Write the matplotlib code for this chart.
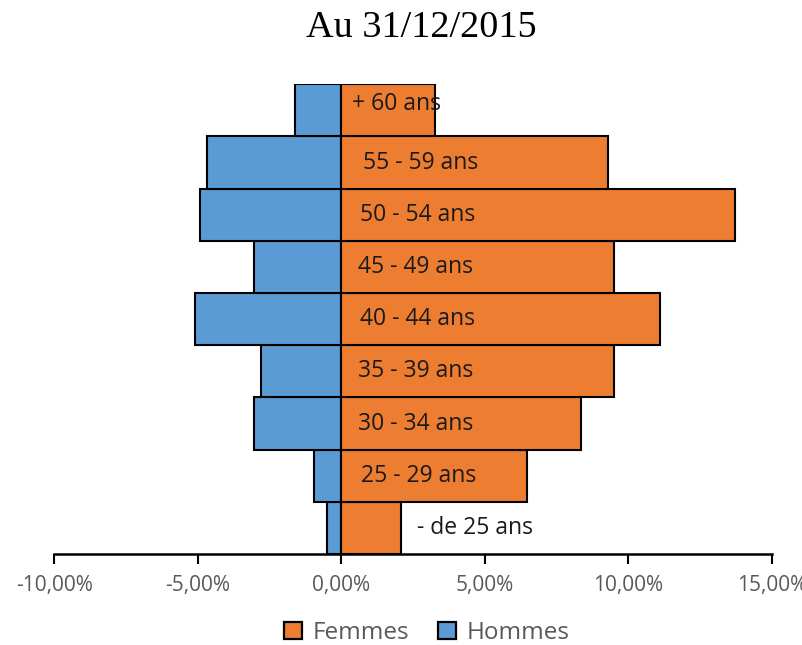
import matplotlib
matplotlib.use("Agg")
import matplotlib.pyplot as plt
from matplotlib.patches import Patch

# age groups, bottom to top
ages = ["- de 25 ans", "25 - 29 ans", "30 - 34 ans", "35 - 39 ans", "40 - 44 ans",
        "45 - 49 ans", "50 - 54 ans", "55 - 59 ans", "+ 60 ans"]
hommes = [-0.49, -0.94, -3.03, -2.80, -5.11, -3.03, -4.91, -4.67, -1.62]
femmes = [2.09, 6.48, 8.36, 9.51, 11.11, 9.51, 13.73, 9.30, 3.27]
xticks = [-10, -5, 0, 5, 10, 15]

ORANGE = "#ED7D31"
BLUE = "#5B9BD5"
GREY = "#595959"
FONT = "Open Sans"

fig = plt.figure(figsize=(8.03, 6.45), dpi=100)
ax = fig.add_axes([54.3 / 803, (645 - 554) / 645, (771.7 - 54.3) / 803, (554 - 84.3) / 645])

y = range(len(ages))
ax.barh(y, hommes, height=1.0, color=BLUE, edgecolor="black", linewidth=1.5, label="Hommes")
ax.barh(y, femmes, height=1.0, color=ORANGE, edgecolor="black", linewidth=1.5, label="Femmes")

# age labels sit just right of zero (last one outside the short bar)
label_x = [2.65, 0.7, 0.6, 0.6, 0.65, 0.6, 0.65, 0.75, 0.38]
label_dy = [0, 0, 0, 0, 0, 0, 0, 0, 0.13]
for i, (lab, lx, dy) in enumerate(zip(ages, label_x, label_dy)):
    ax.text(lx, i + dy, lab, ha="left", va="center", fontsize=16.5,
            family=FONT, color="#1a1a1a")

ax.set_xlim(-10, 15)
ax.set_ylim(-0.5, len(ages) - 0.5)
ax.set_xticks(xticks)
ax.set_xticklabels([f"{t:.2f}%".replace(".", ",") for t in xticks],
                   fontsize=15, family=FONT, color=GREY)
ax.tick_params(axis="x", direction="out", length=7, width=1.5, color="black", pad=8)
ax.set_yticks([])
for s in ["top", "right", "left"]:
    ax.spines[s].set_visible(False)
ax.spines["bottom"].set_linewidth(1.8)
ax.set_facecolor("none")

fig.text(421.5 / 803, 1 - 28 / 645, "Au 31/12/2015", ha="center", va="center",
         fontsize=27.5, family="Liberation Serif", color="black")

handles = [Patch(facecolor=ORANGE, edgecolor="black", linewidth=1.6, label="Femmes"),
           Patch(facecolor=BLUE, edgecolor="black", linewidth=1.6, label="Hommes")]
leg = fig.legend(handles=handles, loc="center", bbox_to_anchor=(427 / 803, 1 - 633 / 645),
                 ncol=2, frameon=False, prop={"family": FONT, "size": 17.5},
                 handlelength=0.72, handleheight=0.72, handletextpad=0.45,
                 columnspacing=1.2, borderpad=0.1)
for t in leg.get_texts():
    t.set_color(GREY)

fig.savefig("out.png", dpi=100, facecolor="white")
